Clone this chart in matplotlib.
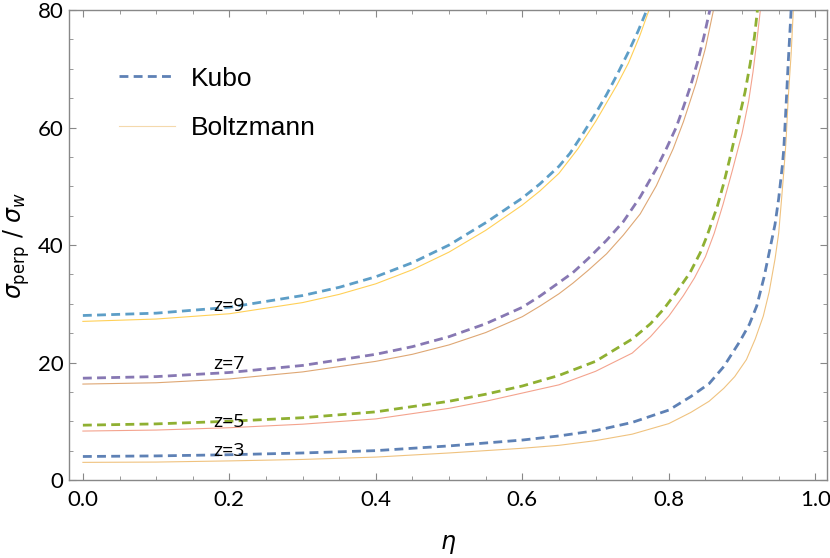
import matplotlib
matplotlib.use('Agg')
import matplotlib.pyplot as plt
from matplotlib.ticker import MultipleLocator
import numpy as np

# values
eta_k3 = [0, 0.1, 0.2, 0.3, 0.4, 0.5, 0.6, 0.65, 0.7, 0.75, 0.8, 0.83, 0.855, 0.875, 0.897, 0.91, 0.92,
          0.93, 0.938, 0.945, 0.95, 0.955, 0.957, 0.96, 0.963, 0.967]
kubo3 = [4.0, 4.1, 4.3, 4.6, 5.0, 5.8, 6.8, 7.5, 8.4, 9.8, 11.9, 14.2, 16.4, 19.3, 23.6, 26.5, 29.6,
         34.5, 39.3, 43.5, 47.9, 53.5, 56.4, 63.5, 71.0, 80.0]
eta_b3 = [0, 0.1, 0.2, 0.3, 0.4, 0.5, 0.6, 0.65, 0.7, 0.75, 0.8, 0.83, 0.855, 0.875, 0.89, 0.906, 0.918,
          0.929, 0.937, 0.945, 0.95, 0.954, 0.957, 0.96, 0.963, 0.967, 0.970]
boltz3 = [3.0, 3.05, 3.25, 3.5, 3.9, 4.6, 5.4, 5.9, 6.7, 7.8, 9.6, 11.5, 13.4, 15.6, 17.6, 20.5, 24.0,
          27.9, 32.0, 37.6, 42.0, 47.9, 52.5, 57.6, 65.0, 72.5, 80.0]

eta_k5 = [0, 0.1, 0.2, 0.3, 0.4, 0.5, 0.55, 0.6, 0.65, 0.7, 0.75, 0.775, 0.793, 0.81, 0.829, 0.843, 0.852,
          0.866, 0.875, 0.885, 0.893, 0.904, 0.911, 0.917, 0.921]
kubo5 = [9.33, 9.55, 10.0, 10.6, 11.6, 13.4, 14.6, 16.0, 17.8, 20.2, 24.0, 26.6, 29.1, 31.9, 35.3, 38.7, 41.5,
         46.5, 50.5, 55.6, 60.0, 66.0, 70.8, 75.5, 80.0]
eta_b5 = [0, 0.1, 0.2, 0.3, 0.4, 0.5, 0.55, 0.6, 0.65, 0.7, 0.75, 0.775, 0.8, 0.82, 0.835, 0.85, 0.862,
          0.874, 0.887, 0.9, 0.909, 0.915, 0.92, 0.925]
boltz5 = [8.33, 8.5, 8.9, 9.5, 10.4, 12.2, 13.4, 14.8, 16.2, 18.5, 21.6, 24.4, 27.9, 31.4, 34.4, 38.0, 42.0,
          46.9, 52.8, 59.0, 64.5, 69.5, 74.5, 80.0]

eta_k7 = [0, 0.1, 0.2, 0.3, 0.4, 0.45, 0.5, 0.55, 0.6, 0.624, 0.65, 0.669, 0.69, 0.715, 0.738, 0.761,
          0.783, 0.797, 0.81, 0.82, 0.83, 0.84, 0.848, 0.856]
kubo7 = [17.33, 17.6, 18.3, 19.5, 21.4, 22.7, 24.4, 26.6, 29.4, 31.3, 33.6, 35.3, 37.7, 40.8, 44.0, 48.2,
         53.0, 56.5, 60.0, 63.5, 67.2, 71.5, 75.5, 80.0]
eta_b7 = [0, 0.1, 0.2, 0.3, 0.4, 0.45, 0.5, 0.55, 0.6, 0.624, 0.65, 0.669, 0.69, 0.715, 0.738, 0.761,
          0.783, 0.806, 0.82, 0.837, 0.85, 0.861]
boltz7 = [16.33, 16.55, 17.2, 18.4, 20.2, 21.4, 23.0, 25.1, 27.8, 29.6, 31.7, 33.5, 35.7, 38.5, 41.7, 45.3,
          50.1, 56.4, 61.0, 67.5, 73.5, 80.0]

eta_k9 = [0, 0.1, 0.2, 0.3, 0.35, 0.4, 0.45, 0.5, 0.55, 0.6, 0.624, 0.65, 0.665, 0.683, 0.7, 0.715,
          0.729, 0.745, 0.758, 0.77]
kubo9 = [28.0, 28.4, 29.4, 31.4, 32.8, 34.6, 37.0, 40.0, 43.8, 48.0, 50.4, 53.4, 55.6, 59.0, 62.4, 65.6,
         68.9, 72.9, 76.4, 80.0]
eta_b9 = [0, 0.1, 0.2, 0.3, 0.35, 0.4, 0.45, 0.5, 0.55, 0.6, 0.624, 0.65, 0.676, 0.7, 0.729, 0.745,
          0.76, 0.773]
boltz9 = [27.0, 27.4, 28.3, 30.2, 31.6, 33.4, 35.8, 38.8, 42.5, 46.8, 49.2, 52.2, 56.4, 61.0, 67.2, 71.0,
          75.5, 80.0]

z_labels = ['z=3', 'z=5', 'z=7', 'z=9']
label_y = [4.9, 9.9, 19.8, 29.7]

kubo_colors = ['#5E81B5', '#8FB032', '#8778B3', '#5D9EC7']
boltz_colors = ['#EDB869', '#F2937A', '#D9985C', '#FFC83A']

fig = plt.figure(figsize=(8.3, 5.58), dpi=100)
ax = fig.add_axes([0.0831, 0.1398, 0.9133, 0.8422])

kubo = [(eta_k3, kubo3), (eta_k5, kubo5), (eta_k7, kubo7), (eta_k9, kubo9)]
boltz = [(eta_b3, boltz3), (eta_b5, boltz5), (eta_b7, boltz7), (eta_b9, boltz9)]

hk = hb = None
for i in range(4):
    lb, = ax.plot(boltz[i][0], boltz[i][1], color=boltz_colors[i], lw=0.8, alpha=0.85, zorder=2)
    lk, = ax.plot(kubo[i][0], kubo[i][1], color=kubo_colors[i], lw=2.0,
                  linestyle=(0, (3.2, 1.9)), zorder=3)
    if i == 0:
        hk, hb = lk, lb
    ax.text(0.2, label_y[i], z_labels[i], fontsize=14, ha='center', va='center',
            family=['Open Sans', 'DejaVu Sans'], zorder=4)

ax.set_xlim(-0.019, 1.016)
ax.set_ylim(0, 80)
ax.xaxis.set_major_locator(MultipleLocator(0.2))
ax.xaxis.set_minor_locator(MultipleLocator(0.05))
ax.yaxis.set_major_locator(MultipleLocator(20))
ax.yaxis.set_minor_locator(MultipleLocator(5))
ax.xaxis.set_major_formatter(plt.FuncFormatter(lambda v, p: '%.1f' % v))

for s in ax.spines.values():
    s.set_color('#888888')
    s.set_linewidth(1.0)
ax.tick_params(which='both', direction='in', top=True, right=True, color='#888888')
ax.tick_params(which='major', length=5, width=0.8)
ax.tick_params(which='minor', length=3, width=0.6)
ax.tick_params(axis='y', labelsize=16, pad=4)
ax.tick_params(axis='x', labelsize=16, pad=7)
for t in ax.get_xticklabels() + ax.get_yticklabels():
    t.set_family(['Lato', 'DejaVu Sans'])

ax.set_xlabel(r'$\eta$', fontsize=17, labelpad=16)
ax.set_ylabel(r'$\sigma_{\rm perp}$ / $\sigma_w$', fontsize=17, labelpad=4)

leg = ax.legend([hk, hb], ['Kubo', 'Boltzmann'], loc='upper left', bbox_to_anchor=(0.035, 0.93),
                frameon=False, handlelength=2.1, handletextpad=0.6, labelspacing=0.95,
                prop={'family': ['Liberation Sans', 'DejaVu Sans'], 'size': 19})
leg.get_lines()[1].set_color('#F3D39E')

fig.savefig('out.png', dpi=100)
